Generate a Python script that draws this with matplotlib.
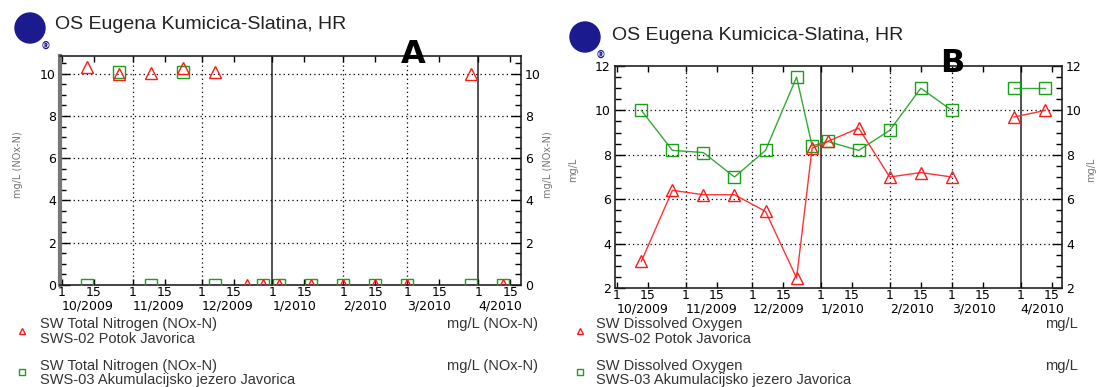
import matplotlib.pyplot as plt
import matplotlib.dates as mdates
import matplotlib.transforms as mtransforms
from matplotlib.patches import Ellipse
from matplotlib.ticker import MultipleLocator
import numpy as np
from datetime import datetime, timedelta

plt.rcParams['font.family'] = ['DejaVu Sans']

# sampling dates (both sites)
dates = ["2009-10-12", "2009-10-26", "2009-11-09", "2009-11-23", "2009-12-07",
         "2009-12-21", "2009-12-28", "2010-01-04", "2010-01-18", "2010-02-01",
         "2010-02-15", "2010-03-01", "2010-03-29", "2010-04-12"]

# A: total nitrogen (NOx-N), mg/L
no3_sws02 = [10.3, 10.0, 10.05, 10.25, 10.1, 0, 0, 0, 0, 0, 0, 0, 10.0, 0]
no3_sws03 = [0, 10.1, 0, 10.1, 0, np.nan, 0, 0, 0, 0, 0, 0, 0, 0]

# B: dissolved oxygen, mg/L
do_sws02 = [3.2, 6.4, 6.2, 6.2, 5.45, 2.45, 8.3, 8.6, 9.2, 7.0, 7.2, 7.0, 9.7, 10.0]
do_sws03 = [10.0, 8.2, 8.1, 7.0, 8.2, 11.5, 8.4, 8.6, 8.2, 9.1, 11.0, 10.0, 11.0, 11.0]

months = ["2009-10", "2009-11", "2009-12", "2010-01", "2010-02", "2010-03", "2010-04"]
month_labels = ["10/2009", "11/2009", "12/2009", "1/2010", "2/2010", "3/2010", "4/2010"]

site_names = ["SWS-02 Potok Javorica", "SWS-03 Akumulacijsko jezero Javorica"]
title = "OS Eugena Kumicica-Slatina, HR"

RED = "#ff1a1a"
GREEN = "#19a019"
W, H = 1098, 387

fig = plt.figure(figsize=(W / 100, H / 100), dpi=100)

x = mdates.date2num([datetime.strptime(d, "%Y-%m-%d") for d in dates])
x0 = mdates.date2num(datetime(2009, 9, 30, 3))
x1 = mdates.date2num(datetime(2010, 4, 19, 16))


def px_axes(l, t, r, b):
    return fig.add_axes([l / W, (H - b) / H, (r - l) / W, (b - t) / H])


def segments(xv, yv, gap=20):
    # break the line where sampling has a long pause
    xv = np.asarray(xv); yv = np.asarray(yv, dtype=float)
    cut = np.where(np.diff(xv) > gap)[0] + 1
    return zip(np.split(xv, cut), np.split(yv, cut))


def setup(ax, ylim, major, grid_y, thick_left=False):
    ax.set_xlim(x0, x1)
    ax.set_ylim(*ylim)
    ax.yaxis.set_major_locator(MultipleLocator(major))
    ax.yaxis.set_minor_locator(MultipleLocator(major / 4))
    ax.tick_params(axis='y', which='major', direction='in', length=7, width=1,
                   left=True, right=True, labelleft=True, labelright=True,
                   labelsize=9, pad=3)
    ax.tick_params(axis='y', which='minor', direction='in', length=4, width=1,
                   left=True, right=True)
    ticks, labels = [], []
    for m in months:
        d = datetime.strptime(m, "%Y-%m")
        ticks += [mdates.date2num(d), mdates.date2num(d + timedelta(days=14))]
        labels += ["1", "15"]
    ax.set_xticks(ticks)
    ax.set_xticklabels(labels)
    ax.tick_params(axis='x', direction='in', length=4, width=1, top=True,
                   labelsize=9, pad=1)
    trans = mtransforms.blended_transform_factory(ax.transData, ax.transAxes)
    for m, lab in zip(months, month_labels):
        d = mdates.date2num(datetime.strptime(m, "%Y-%m"))
        ax.text(d, -0.065, lab, transform=trans, ha='left', va='top', fontsize=9)
        if m in ("2010-01", "2010-04"):
            ax.axvline(d, color='#222222', lw=1.1, zorder=1)
        elif m != "2009-10":
            ax.axvline(d, color='black', lw=0.9, ls=(0, (1, 2.5)), zorder=1)
    for g in grid_y:
        ax.axhline(g, color='black', lw=0.9, ls=(0, (1, 2.5)), zorder=1)
    for s in ax.spines.values():
        s.set_color('#222222')
        s.set_linewidth(1.2)
    if thick_left:
        ax.spines['left'].set_color('#777777')
        ax.spines['left'].set_linewidth(3)


def ylabels(label, xl, xr, yc):
    for xx in (xl, xr):
        fig.text(xx / W, 1 - yc / H, label, fontsize=7, color='#777777',
                 rotation=90, ha='center', va='center')


def logo(cx, cy):
    r = 15
    fig.patches.append(Ellipse((cx / W, 1 - cy / H), 2 * r / W, 2 * r / H,
                               transform=fig.transFigure,
                               facecolor='#1b1b8f', edgecolor='#1b1b8f'))
    fig.text((cx + 16) / W, 1 - (cy + 18) / H, "®", fontsize=7, ha='center',
             va='center', color='#1b1b8f', fontweight='bold')


def legend(xm, xt, xr, entries):
    ys = [(324, 339, 331), (366, 380, 372)]
    for (y1, y2, ym), (param, unit, site, marker, col) in zip(ys, entries):
        fig.text(xt / W, 1 - y1 / H, param, fontsize=10.5, va='center',
                 family='Liberation Sans', color='#333333')
        fig.text(xt / W, 1 - y2 / H, site, fontsize=10.5, va='center',
                 family='Liberation Sans', color='#333333')
        fig.text(xr / W, 1 - y1 / H, unit, fontsize=10.5, va='center', ha='right',
                 family='Liberation Sans', color='#333333')
        fig.lines.append(plt.Line2D([xm / W], [1 - ym / H], transform=fig.transFigure,
                                    marker=marker, ms=5, mfc='none', mec=col, mew=1,
                                    ls='none'))


# ---- panel A ----
axA = px_axes(60, 56, 521, 285)
setup(axA, (0, 10.84), 2, [2, 4, 6, 8, 10], thick_left=True)
axA.plot(x, no3_sws03, ls='none', marker='s', ms=8, mfc='none', mec=GREEN, mew=1,
         zorder=3)
axA.plot(x, no3_sws02, ls='none', marker='^', ms=8, mfc='none', mec=RED, mew=1,
         zorder=4)
ylabels("mg/L (NOx-N)", 18, 548, 165)
logo(30, 28)
fig.text(55 / W, 1 - 29 / H, title, fontsize=14, family='Liberation Sans',
         color='#222222', va='baseline')
fig.text(413 / W, 1 - 63 / H, "A", fontsize=23, fontweight='bold', ha='center',
         va='baseline')
legend(22, 40, 538, [("SW Total Nitrogen (NOx-N)", "mg/L (NOx-N)", site_names[0], '^', RED),
                     ("SW Total Nitrogen (NOx-N)", "mg/L (NOx-N)", site_names[1], 's', GREEN)])

# ---- panel B ----
axB = px_axes(615, 66, 1062, 288)
setup(axB, (2, 12), 2, [4, 6, 8, 10])
for sx, sy in segments(x, do_sws03):
    axB.plot(sx, sy, color='#33aa33', lw=1, marker='s', ms=8, mfc='none', mec=GREEN,
             mew=1, zorder=3)
for sx, sy in segments(x, do_sws02):
    axB.plot(sx, sy, color='#ff3333', lw=1, marker='^', ms=8, mfc='none', mec=RED,
             mew=1, zorder=4)
ylabels("mg/L", 573, 1091, 170)
logo(585, 37)
fig.text(612 / W, 1 - 40 / H, title, fontsize=14, family='Liberation Sans',
         color='#222222', va='baseline')
fig.text(952 / W, 1 - 72 / H, "B", fontsize=23, fontweight='bold', ha='center',
         va='baseline')
legend(580, 596, 1078, [("SW Dissolved Oxygen", "mg/L", site_names[0], '^', RED),
                        ("SW Dissolved Oxygen", "mg/L", site_names[1], 's', GREEN)])

fig.savefig("out.png", dpi=100)
